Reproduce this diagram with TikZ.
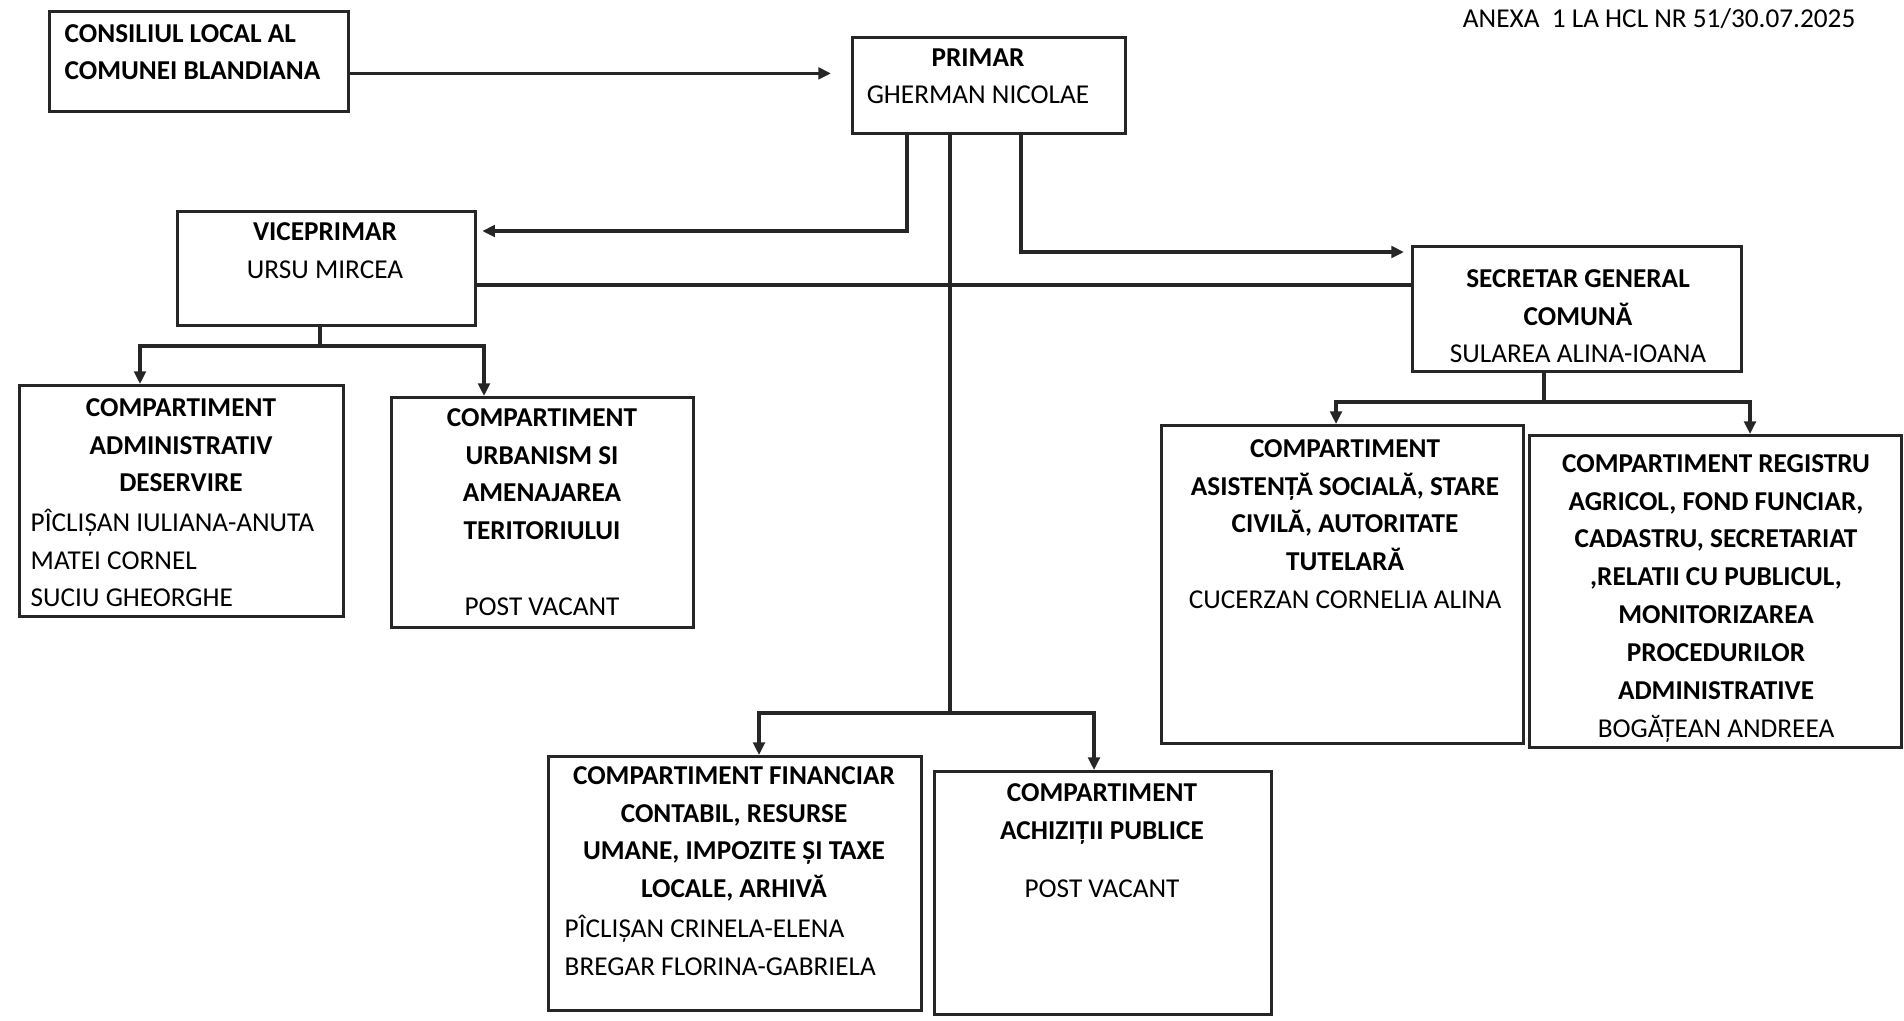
\documentclass[tikz,border=0pt]{standalone}
\usepackage{fontspec}
\setmainfont{Carlito}
\usetikzlibrary{arrows.meta}
\setlength{\parindent}{0pt}

\tikzset{
  box/.style={draw=black!85, line width=0.8pt, anchor=north west, inner sep=0pt},
  txt/.style={inner sep=0pt, font=\fontsize{7.75pt}{10.8pt}\selectfont},
  ctxt/.style={txt, anchor=base, align=flush center},
  ltxt/.style={txt, anchor=base west, align=flush left},
  link/.style={draw=black!85, line width=0.9pt},
  arr/.style={link, -{Triangle[length=3.6pt,width=3.3pt]}},
}

\begin{document}
\begin{tikzpicture}[x=0.01cm,y=-0.01cm]
\useasboundingbox (0,0) rectangle (1904,1020);
% boxes
\node[box, minimum width=2.99cm, minimum height=1.00cm] (cons) at (48,10) {};
\node[box, minimum width=2.73cm, minimum height=0.96cm] (prim) at (851,36) {};
\node[box, minimum width=2.98cm, minimum height=1.14cm] (vice) at (176,210) {};
\node[box, minimum width=3.29cm, minimum height=1.25cm] (secr) at (1411,245) {};
\node[box, minimum width=3.24cm, minimum height=2.31cm] (adm) at (18,384) {};
\node[box, minimum width=3.02cm, minimum height=2.30cm] (urb) at (390,396) {};
\node[box, minimum width=3.62cm, minimum height=3.18cm] (asi) at (1160,424) {};
\node[box, minimum width=3.72cm, minimum height=3.12cm] (reg) at (1528,434) {};
\node[box, minimum width=3.73cm, minimum height=2.54cm] (fin) at (547,755) {};
\node[box, minimum width=3.37cm, minimum height=2.43cm] (ach) at (933,770) {};
% texts
\node[txt, anchor=base east] (anexa) at (1856,27) {ANEXA\ \ 1 LA HCL NR 51/30.07.2025};
\node[ltxt, text width=2.8cm] (const) at (64,42) {\textbf{CONSILIUL LOCAL AL}\\\textbf{COMUNEI BLANDIANA}};
\node[ctxt, text width=2.6cm] (primt) at (978,66) {\textbf{PRIMAR}\\GHERMAN NICOLAE};
\node[ctxt, text width=2.8cm] (vicet) at (325,240) {\textbf{VICEPRIMAR}\\URSU MIRCEA};
\node[ctxt, text width=3.2cm] (secrt) at (1578,287) {\textbf{SECRETAR GENERAL}\\\textbf{COMUNĂ}\\SULAREA ALINA-IOANA};
\node[ctxt, text width=3.0cm] (admt) at (181,416) {\textbf{COMPARTIMENT}\\\textbf{ADMINISTRATIV}\\\textbf{DESERVIRE}};
\node[ltxt, text width=3.0cm] (admn) at (30,531) {PÎCLIȘAN IULIANA-ANUTA\\MATEI CORNEL\\SUCIU GHEORGHE};
\node[ctxt, text width=2.9cm] (urbt) at (542,426) {\textbf{COMPARTIMENT}\\\textbf{URBANISM SI}\\\textbf{AMENAJAREA}\\\textbf{TERITORIULUI}\\[10.8pt]POST VACANT};
\node[ctxt, text width=3.5cm] (asit) at (1345,457) {\textbf{COMPARTIMENT}\\\textbf{ASISTENȚĂ SOCIALĂ, STARE}\\\textbf{CIVILĂ, AUTORITATE}\\\textbf{TUTELARĂ}\\CUCERZAN CORNELIA ALINA};
\node[ctxt, text width=3.6cm] (regt) at (1716,472) {\textbf{COMPARTIMENT REGISTRU}\\\textbf{AGRICOL, FOND FUNCIAR,}\\\textbf{CADASTRU, SECRETARIAT}\\\textbf{,RELATII CU PUBLICUL,}\\\textbf{MONITORIZAREA}\\\textbf{PROCEDURILOR}\\\textbf{ADMINISTRATIVE}\\BOGĂȚEAN ANDREEA};
\node[ctxt, text width=3.5cm] (fint) at (734,784) {\textbf{COMPARTIMENT FINANCIAR}\\\textbf{CONTABIL, RESURSE}\\\textbf{UMANE, IMPOZITE ȘI TAXE}\\\textbf{LOCALE, ARHIVĂ}};
\node[ltxt, text width=3.4cm] (finn) at (564,937) {PÎCLIȘAN CRINELA-ELENA\\BREGAR FLORINA-GABRIELA};
\node[ctxt, text width=3.2cm] (acht) at (1102,801) {\textbf{COMPARTIMENT}\\\textbf{ACHIZIȚII PUBLICE}\\[5.7pt]POST VACANT};
% junctions
\coordinate (pv) at (907,231);
\coordinate (ps) at (1021,252);
\coordinate (vs) at (700,285);
\coordinate (pj) at (950,713);
\coordinate (pf) at (759,713);
\coordinate (pa) at (1094,713);
\coordinate (vj) at (320,346);
\coordinate (va) at (140,346);
\coordinate (vb) at (484,346);
\coordinate (sj) at (1544,402);
\coordinate (sa) at (1336,402);
\coordinate (sr) at (1750,402);
% connectors
\draw[arr, shorten >=5.7pt] ([yshift=-3.4pt]cons.east) -- ([yshift=-3.4pt]cons.east -| prim.west);
\draw[arr, shorten >=1.5pt] (prim.south -| pv) -- (pv) -- (pv -| vice.east);
\draw[arr, shorten >=2pt] (prim.south -| ps) -- (ps) -- (ps -| secr.west);
\draw[link] (vs -| vice.east) -- (vs -| secr.west);
\draw[link] (prim.south -| pj) -- (pj);
\draw[arr] (pj) -- (pf) -- (pf |- fin.north);
\draw[arr] (pj) -- (pa) -- (pa |- ach.north);
\draw[link] (vice.south -| vj) -- (vj);
\draw[arr] (vj) -- (va) -- (va |- adm.north);
\draw[arr] (vj) -- (vb) -- (vb |- urb.north);
\draw[link] (secr.south -| sj) -- (sj);
\draw[arr] (sj) -- (sa) -- (sa |- asi.north);
\draw[arr] (sj) -- (sr) -- (sr |- reg.north);
\end{tikzpicture}
\end{document}
